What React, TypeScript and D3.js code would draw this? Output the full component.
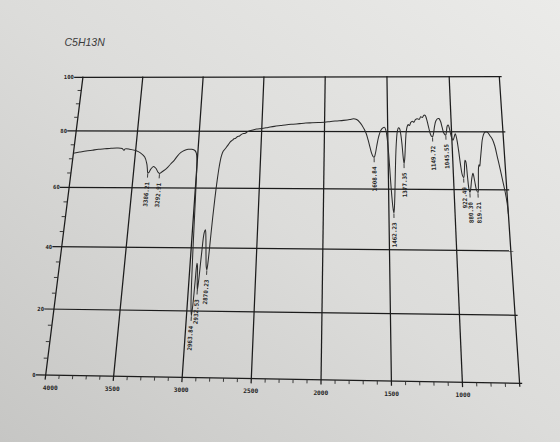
import React from "react";
import * as d3 from "d3";

// ---------- data ----------
const title = "C5H13N";
const xTickValues = [4000, 3500, 3000, 2500, 2000, 1500, 1000];
const yTickValues = [0, 20, 40, 60, 80, 100];
const xDomain = [4000, 600];
const yDomain = [100, 0];

const wavenumbers = [
  4000, 3950, 3900, 3850, 3800, 3750, 3700, 3650, 3610, 3595, 3585, 3550, 3500, 3460, 3422, 3400,
  3392, 3386, 3378, 3365, 3345, 3325, 3305, 3293, 3275, 3250, 3230, 3210, 3187, 3160, 3135, 3110,
  3080, 3050, 3025, 3012, 3004, 2998, 2992, 2986, 2979, 2972, 2964, 2958, 2953, 2948, 2944, 2938,
  2932, 2926, 2918, 2908, 2900, 2892, 2883, 2876, 2870, 2864, 2857, 2850, 2842, 2833, 2823, 2812,
  2800, 2790, 2775, 2760, 2745, 2730, 2718, 2705, 2690, 2675, 2660, 2645, 2630, 2615, 2600, 2570,
  2540, 2500, 2450, 2400, 2350, 2300, 2250, 2200, 2150, 2100, 2050, 2000, 1950, 1900, 1850, 1800,
  1770, 1745, 1720, 1700, 1685, 1670, 1655, 1641, 1628, 1616, 1609, 1600, 1588, 1572, 1555, 1538,
  1525, 1515, 1505, 1495, 1485, 1475, 1468, 1462, 1456, 1450, 1443, 1435, 1425, 1415, 1406, 1398,
  1390, 1383, 1377, 1371, 1364, 1356, 1348, 1338, 1328, 1318, 1305, 1292, 1280, 1265, 1250, 1238,
  1225, 1212, 1202, 1192, 1180, 1168, 1157, 1150, 1142, 1132, 1120, 1108, 1095, 1083, 1072, 1062,
  1052, 1046, 1040, 1032, 1024, 1015, 1005, 992, 982, 972, 962, 952, 942, 932, 922, 914,
  906, 900, 893, 886, 880, 872, 862, 850, 840, 830, 819, 812, 805, 800, 795, 788,
  775, 765, 754, 742, 730, 718, 705, 685, 670, 655, 640, 628, 614, 604, 600,
];
const transmittance = [
  72.0, 72.4, 72.8, 73.1, 73.4, 73.6, 73.8, 73.9, 73.7, 73.1, 73.6, 73.5, 73.0, 72.2, 70.7, 68.3,
  66.5, 65.2, 65.3, 66.5, 67.4, 66.8, 65.4, 65.0, 65.5, 66.3, 67.2, 68.3, 69.4, 71.2, 72.4, 73.1,
  73.5, 73.5, 73.1, 72.2, 70.0, 64.0, 52.0, 40.0, 29.0, 22.0, 18.5, 22.0, 29.0, 35.0, 34.5, 30.0,
  26.5, 30.0, 38.0, 45.0, 46.0, 43.0, 37.5, 34.0, 33.0, 36.0, 43.0, 50.0, 56.5, 62.5, 67.5, 71.0,
  72.8, 73.4, 74.3, 75.3, 76.3, 76.8, 77.3, 77.5, 78.1, 78.3, 78.9, 79.2, 79.3, 79.8, 80.1, 80.5,
  80.8, 81.0, 81.4, 81.8, 82.1, 82.4, 82.6, 82.8, 83.0, 83.1, 83.2, 83.3, 83.6, 83.8, 84.0, 84.3,
  84.6, 84.3, 83.3, 82.0, 80.8, 79.3, 77.0, 74.5, 72.3, 71.1, 70.9, 72.0, 74.8, 78.2, 80.4, 81.3,
  81.5, 80.5, 77.5, 72.0, 64.0, 57.0, 53.5, 52.0, 55.0, 61.0, 69.0, 75.5, 80.0, 81.4, 81.0, 79.0,
  75.5, 71.0, 68.8, 70.5, 75.0, 79.5, 81.6, 82.5, 82.2, 83.2, 83.7, 83.4, 84.3, 84.6, 84.4, 85.3,
  85.1, 85.9, 85.8, 84.5, 82.0, 79.5, 78.3, 78.2, 79.2, 81.8, 83.8, 84.6, 84.7, 83.7, 81.5, 79.6,
  78.9, 78.8, 80.0, 82.0, 82.4, 81.0, 78.5, 77.0, 78.0, 79.3, 77.5, 73.5, 68.5, 65.0, 64.0, 66.5,
  70.0, 69.5, 64.5, 60.0, 59.0, 60.5, 63.5, 65.5, 63.0, 60.0, 59.0, 62.5, 67.5, 68.5, 68.0, 70.0,
  74.0, 77.0, 78.8, 79.8, 80.0, 79.7, 78.8, 77.3, 75.0, 71.0, 67.0, 63.5, 59.5, 55.5, 52.0,
];
const peakLabels = [
  "3386.21", "3292.91", "2963.84", "2932.53", "2870.23", "1608.84", "1462.23",
  "1377.35", "1149.72", "1045.55", "922.49", "880.30", "819.21",
];

// ---------- layout of the photographed sheet (perspective quad) ----------
const CORNER_TL: [number, number] = [82.9, 77.3];
const CORNER_TR: [number, number] = [499.3, 76.7];
const CORNER_BR: [number, number] = [519.6, 383.3];
const CORNER_BL: [number, number] = [45.7, 375.0];

function makeHomography(p0: number[], p1: number[], p2: number[], p3: number[]) {
  const [x0, y0] = p0, [x1, y1] = p1, [x2, y2] = p2, [x3, y3] = p3;
  const dx1 = x1 - x2, dx2 = x3 - x2, dx3 = x0 - x1 + x2 - x3;
  const dy1 = y1 - y2, dy2 = y3 - y2, dy3 = y0 - y1 + y2 - y3;
  const den = dx1 * dy2 - dx2 * dy1;
  const g = (dx3 * dy2 - dx2 * dy3) / den;
  const h = (dx1 * dy3 - dx3 * dy1) / den;
  const a = x1 - x0 + g * x1, b = x3 - x0 + h * x3, c = x0;
  const d = y1 - y0 + g * y1, e = y3 - y0 + h * y3, f = y0;
  return (u: number, v: number): [number, number] => {
    const w = g * u + h * v + 1;
    return [(a * u + b * v + c) / w, (d * u + e * v + f) / w];
  };
}

const H = makeHomography(CORNER_TL, CORNER_TR, CORNER_BR, CORNER_BL);
const uScale = d3.scaleLinear().domain(xDomain).range([0, 1]);
const vScale = d3.scaleLinear().domain(yDomain).range([0, 1]);
const project = (w: number, t: number) => H(uScale(w), vScale(t));

const INK = "#242424";
const MONO = "'DejaVu Sans Mono', 'Liberation Mono', monospace";

export default function App() {
  const interp = (w: number) => {
    for (let i = 0; i < wavenumbers.length - 1; i++) {
      const a = wavenumbers[i], b = wavenumbers[i + 1];
      if (w <= a && w >= b) {
        const k = (a - w) / (a - b);
        return transmittance[i] + k * (transmittance[i + 1] - transmittance[i]);
      }
    }
    return transmittance[transmittance.length - 1];
  };

  const pts = wavenumbers.map((w, i) => project(w, transmittance[i]));
  const spectrumPath = d3.line().curve(d3.curveCatmullRom.alpha(0.5))(pts as any) || "";

  const seg = (p: [number, number], q: [number, number]) => `M${p[0]},${p[1]}L${q[0]},${q[1]}`;

  const vGrid = xTickValues.filter((w) => w !== 4000).map((w) =>
    seg(H(uScale(w), 0), H(uScale(w), 1.012))
  );
  const hGrid = yTickValues.map((t) => seg(H(-0.02, vScale(t)), H(1.004, vScale(t))));
  const frame = [seg(H(0, 0), H(0, 1.012)), seg(H(1, 0), H(1, 1.008))];

  const xMinor = d3.range(3900, 600, -100).filter((w) => w % 500 !== 0).map((w) =>
    seg(H(uScale(w), 1), H(uScale(w), 1.011))
  );
  const yMinor = d3.range(5, 100, 5).filter((t) => t % 20 !== 0).map((t) =>
    seg(H(0, vScale(t)), H(-0.009, vScale(t)))
  );

  return (
    <svg
      width={560}
      height={442}
      viewBox="0 0 560 442"
      style={{ position: "absolute", left: 0, top: 0, display: "block" }}
    >
      <defs>
        <linearGradient id="paper" x1="1" y1="0" x2="0" y2="1">
          <stop offset="0" stopColor="#ebebe9" />
          <stop offset="0.5" stopColor="#dcdcda" />
          <stop offset="1" stopColor="#c6c6c4" />
        </linearGradient>
      </defs>
      <rect x={0} y={0} width={560} height={442} fill="url(#paper)" />

      <text
        x={64.5}
        y={46}
        fontFamily="'Liberation Sans', Arial, sans-serif"
        fontStyle="italic"
        fontSize={10.5}
        fill="#3a3a3a"
      >
        {title}
      </text>

      <g stroke="#1c1c1c" strokeWidth={1.25} fill="none" strokeLinecap="square">
        {vGrid.map((d, i) => <path key={"v" + i} d={d} />)}
        {hGrid.map((d, i) => <path key={"h" + i} d={d} />)}
        {frame.map((d, i) => <path key={"f" + i} d={d} />)}
      </g>
      <g stroke="#2a2a2a" strokeWidth={0.9} fill="none">
        {xMinor.map((d, i) => <path key={"xm" + i} d={d} />)}
        {yMinor.map((d, i) => <path key={"ym" + i} d={d} />)}
      </g>

      <g fontFamily={MONO} fontWeight="bold" fontSize={5.6} fill={INK}>
        {yTickValues.map((t) => {
          const [x, y] = H(-0.022, vScale(t));
          return (
            <text key={"yl" + t} x={x} y={y} textAnchor="end" dominantBaseline="central">
              {t}
            </text>
          );
        })}
      </g>

      <g fontFamily={MONO} fontWeight="bold" fontSize={6.2} fill={INK}>
        {xTickValues.map((w) => {
          const [x, y] = H(uScale(w), 1.043);
          return (
            <text key={"xl" + w} x={w === 4000 ? x - 1 : x} y={y} textAnchor={w === 4000 ? "start" : "middle"}>
              {w}
            </text>
          );
        })}
      </g>

      <path d={spectrumPath} fill="none" stroke="#2b2b2b" strokeWidth={1.05} strokeLinejoin="round" />

      <g fontFamily={MONO} fontWeight="bold" fontSize={5.9} fill={INK}>
        {peakLabels.map((lab) => {
          const w = parseFloat(lab);
          const t = interp(w);
          const [tx, ty] = project(w, t);
          const [ax, ay] = project(w, t - 1.2);
          const [lx, ly] = project(w, t - 2.6);
          const [bx, by] = project(w, t - 12);
          const ang = (Math.atan2(-(by - ly), -(bx - lx)) * 180) / Math.PI;
          return (
            <g key={lab}>
              <path d={`M${tx},${ty + 0.8}L${ax},${ay + 1.5}`} stroke="#2b2b2b" strokeWidth={0.9} />
              <text
                transform={`translate(${lx + 0.3},${ly + 1.8}) rotate(${ang})`}
                textAnchor="end"
                dominantBaseline="central"
              >
                {lab}
              </text>
            </g>
          );
        })}
      </g>
    </svg>
  );
}
